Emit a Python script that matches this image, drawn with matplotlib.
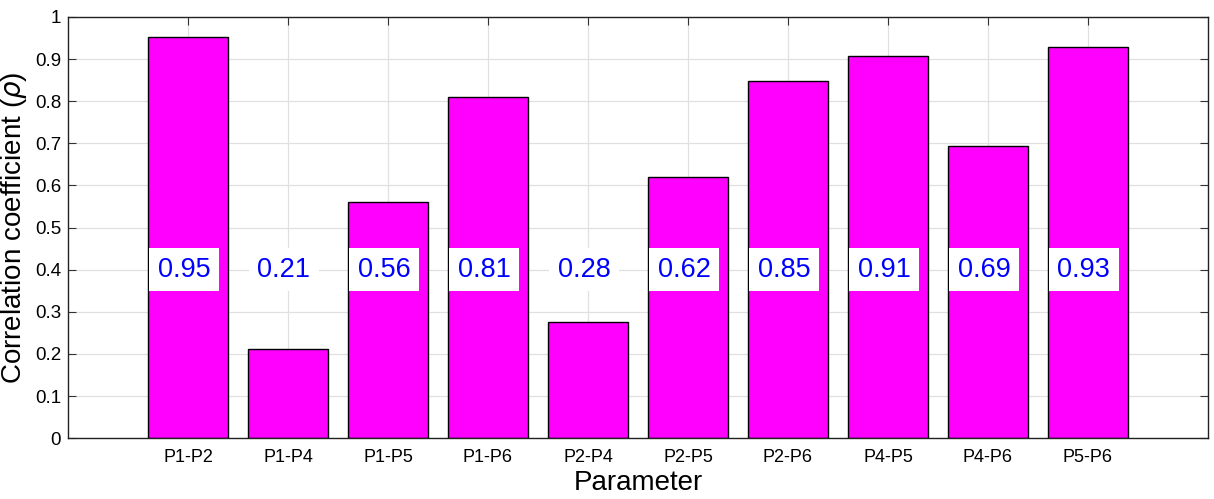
import numpy as np
import matplotlib
matplotlib.use("Agg")
import matplotlib.pyplot as plt
from matplotlib.ticker import FormatStrFormatter

plt.rcParams['font.family'] = ['Liberation Sans', 'DejaVu Sans']

pairs = ["P1-P2", "P1-P4", "P1-P5", "P1-P6", "P2-P4",
         "P2-P5", "P2-P6", "P4-P5", "P4-P6", "P5-P6"]
rho = [0.952, 0.211, 0.561, 0.810, 0.275, 0.620, 0.848, 0.907, 0.693, 0.929]
rho_labels = ["0.95", "0.21", "0.56", "0.81", "0.28",
              "0.62", "0.85", "0.91", "0.69", "0.93"]

fig = plt.figure(figsize=(12.14, 4.99), dpi=100)
ax = fig.add_axes([0.056, 0.122, 0.939, 0.844])

x = np.arange(1, len(pairs) + 1)
ax.bar(x, rho, width=0.8, color="#ff00ff", edgecolor="black", linewidth=1.0, zorder=2)

for xi, lab in zip(x, rho_labels):
    ax.text(xi - 0.04, 0.40, lab, color="#0000ff", fontsize=19.5, ha="center", va="center",
            zorder=4, bbox=dict(facecolor="white", edgecolor="none", pad=6))

ax.set_xlim(-0.2, 11.2)
ax.set_ylim(0, 1)
ax.set_xticks(x)
ax.set_xticklabels(pairs, fontsize=13)
ax.set_yticks(np.arange(0, 1.01, 0.1))
ax.yaxis.set_major_formatter(FormatStrFormatter('%g'))
ax.tick_params(axis='y', labelsize=13.5, pad=5)
ax.tick_params(axis='x', pad=8)
ax.tick_params(direction='in', length=6, width=0.8, top=True, right=True, color="#333333")
ax.grid(True, color="#e0e0e0", linewidth=0.9, zorder=0)
ax.set_axisbelow(True)
for s in ax.spines.values():
    s.set_linewidth(1.0)
    s.set_color("#222222")

ax.set_xlabel("Parameter", fontsize=20, labelpad=3)
ax.set_ylabel(r"Correlation coefficient ($\rho$)", fontsize=20, labelpad=4)

fig.savefig("out.png", dpi=100, facecolor="white")
